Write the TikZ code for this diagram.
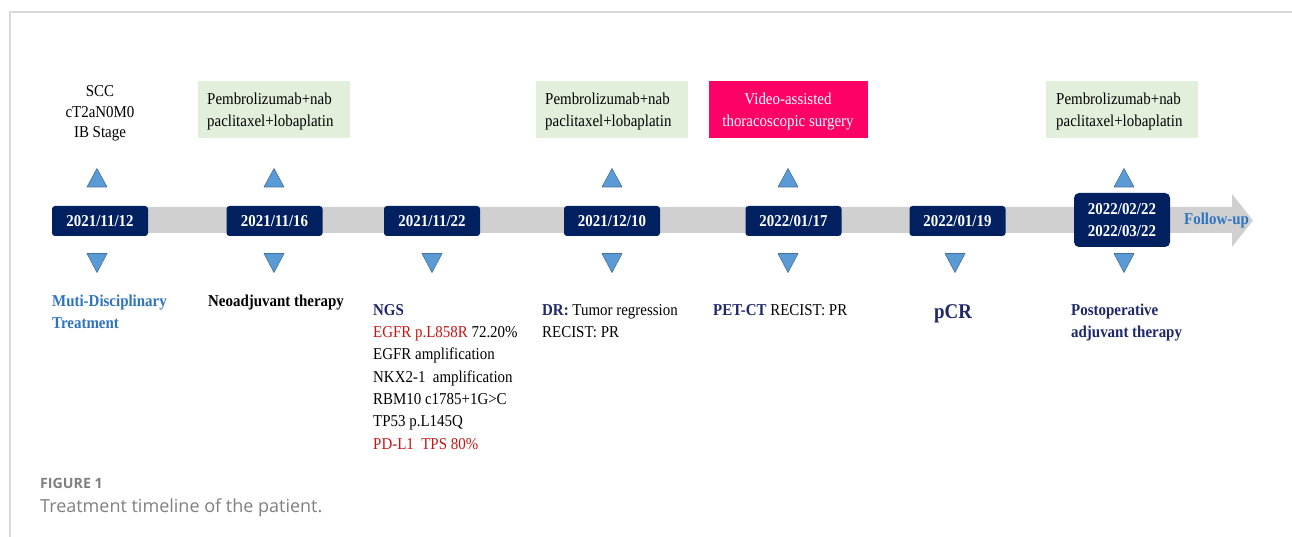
\documentclass[tikz,border=0pt]{standalone}
\usepackage{fontspec}
\setmainfont{Liberation Serif}[FakeStretch=0.9]
\newfontfamily\capfont{Open Sans}
\definecolor{boxnavy}{RGB}{0,32,96}
\definecolor{txtnavy}{RGB}{30,40,105}
\definecolor{txtblue}{RGB}{46,116,190}
\definecolor{txtred}{RGB}{200,20,20}
\definecolor{trifill}{RGB}{91,155,213}
\definecolor{triline}{RGB}{65,113,156}
\definecolor{greenbg}{RGB}{226,239,218}
\definecolor{pinkbg}{RGB}{255,0,102}
\definecolor{bargray}{RGB}{208,208,208}
\definecolor{framegray}{RGB}{216,216,216}
\definecolor{capgray}{RGB}{128,128,128}
\begin{document}
\begin{tikzpicture}[x=1pt,y=-1pt,
  datebox/.style={fill=boxnavy, rounded corners=3pt, text=white, font=\bfseries\fontsize{16.6}{18}\selectfont, minimum width=96, minimum height=30, inner sep=0},
  greenbox/.style={fill=greenbg, minimum width=152, minimum height=57, inner sep=0},
  pinkbox/.style={fill=pinkbg, minimum width=159, minimum height=57, inner sep=0},
  tri/.style={fill=trifill, draw=triline, line width=0.6pt, line join=round},
  body/.style={inner sep=0, font=\fontsize{16.6}{18}\selectfont},
  bodyL/.style={body, anchor=base west},
  bodyC/.style={body, anchor=base},
  bnavy/.style={text=txtnavy, font=\bfseries\fontsize{16.6}{18}\selectfont},
  bblue/.style={text=txtblue, font=\bfseries\fontsize{16.6}{18}\selectfont},
  red/.style={text=txtred}
]
\useasboundingbox (0,0) rectangle (1292,537);
\fill[white] (0,0) rectangle (1292,537);
% frame
\draw[framegray, line width=1.2pt] (10,537) -- (10,12) -- (1292,12);
% bar with arrow
\fill[bargray] (60,207) -- (1232,207) -- (1232,194) -- (1253,220.5) -- (1232,247) -- (1232,233) -- (60,233) -- cycle;
% date boxes
\node[datebox] (d1) at (100,221) {2021/11/12};
\node[datebox] (d2) at (274.5,221) {2021/11/16};
\node[datebox] (d3) at (432,221) {2021/11/22};
\node[datebox] (d4) at (612,221) {2021/12/10};
\node[datebox] (d5) at (793.5,221) {2022/01/17};
\node[datebox] (d6) at (957.5,221) {2022/01/19};
\node[datebox, minimum height=54, rounded corners=5pt, align=center, font=\bfseries\fontsize{16.6}{22}\selectfont] (d7) at (1122,220) {2022/02/22\\2022/03/22};
\node[bblue, inner sep=0, anchor=base west] (fu) at (1184,225) {Follow-up};
% up triangles
\foreach \x in {97,274,612,788,1124}{
  \draw[tri] (\x-10,187) -- (\x+10,187) -- (\x,168.5) -- cycle;
}
% down triangles
\foreach \x in {97,274,432,612,788,955,1124}{
  \draw[tri] (\x-10,253.5) -- (\x+10,253.5) -- (\x,272.5) -- cycle;
}
% upper texts
\node[bodyC] (s1) at (100,97) {SCC};
\node[bodyC] (s2) at (100,117.5) {cT2aN0M0};
\node[bodyC] (s3) at (100,138) {IB Stage};
\node[greenbox] (g1) at (274,110) {};
\node[bodyL] (g1a) at (207,105) {Pembrolizumab+nab};
\node[bodyL] (g1b) at (207,127) {paclitaxel+lobaplatin};
\node[greenbox] (g2) at (612,110) {};
\node[bodyL] (g2a) at (545,105) {Pembrolizumab+nab};
\node[bodyL] (g2b) at (545,127) {paclitaxel+lobaplatin};
\node[pinkbox] (p1) at (788,110) {};
\node[bodyC, text=white] (p1a) at (788,105) {Video-assisted};
\node[bodyC, text=white] (p1b) at (788,127) {thoracoscopic surgery};
\node[greenbox] (g3) at (1122,110) {};
\node[bodyL] (g3a) at (1056,105) {Pembrolizumab+nab};
\node[bodyL] (g3b) at (1056,127) {paclitaxel+lobaplatin};
% lower texts
\node[bodyL, bblue] (m1) at (52,306) {Muti-Disciplinary};
\node[bodyL, bblue] (m2) at (52,328) {Treatment};
\node[bodyL, font=\bfseries\fontsize{16.6}{18}\selectfont] (n1) at (208,306) {Neoadjuvant therapy};
\node[bodyL, bnavy] (ngs) at (373,315) {NGS};
\node[bodyL] (ngs1) at (373,337.3) {\textcolor{txtred}{EGFR p.L858R} 72.20\%};
\node[bodyL] (ngs2) at (373,359.6) {EGFR amplification};
\node[bodyL] (ngs3) at (373,382) {NKX2-1\ \ amplification};
\node[bodyL] (ngs4) at (373,404) {RBM10 c1785+1G>C};
\node[bodyL] (ngs5) at (373,426.5) {TP53 p.L145Q};
\node[bodyL, red] (ngs6) at (373,449) {PD-L1\ \ TPS 80\%};
\node[bodyL] (dr1) at (542,315) {\textcolor{txtnavy}{\bfseries DR:} Tumor regression};
\node[bodyL] (dr2) at (542,337) {RECIST: PR};
\node[bodyL] (pet) at (713,315) {\textcolor{txtnavy}{\bfseries PET-CT} RECIST: PR};
\node[inner sep=0, anchor=base, text=txtnavy, font=\bfseries\fontsize{21}{24}\selectfont] (pcr) at (953,318) {pCR};
\node[bodyL, bnavy] (po1) at (1071,315) {Postoperative};
\node[bodyL, bnavy] (po2) at (1071,337) {adjuvant therapy};
% caption
\node[inner sep=0, anchor=base west, text=capgray, font=\capfont\bfseries\fontsize{14.2}{16}\selectfont] (cap1) at (40,488) {FIGURE 1};
\node[inner sep=0, anchor=base west, text=capgray, font=\capfont\fontsize{18}{21}\selectfont] (cap2) at (40,512) {Treatment timeline of the patient.};
\end{tikzpicture}
\end{document}
